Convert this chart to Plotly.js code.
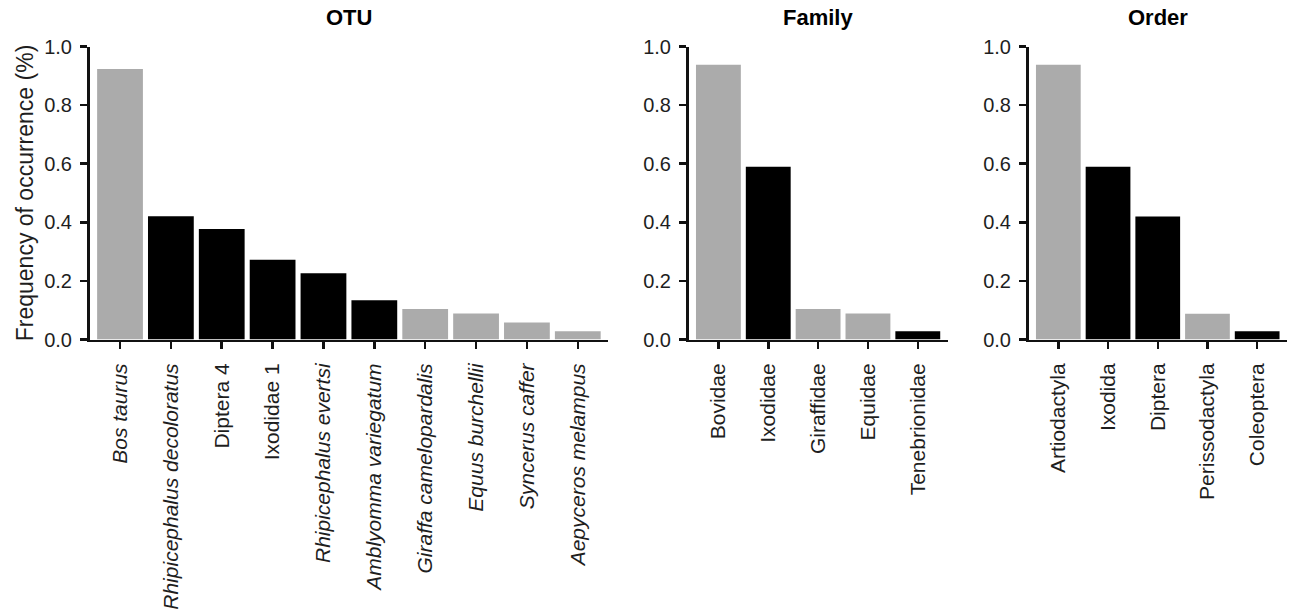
<!DOCTYPE html>
<html>
<head>
<meta charset="utf-8">
<script src="https://cdn.plot.ly/plotly-3.0.1.min.js"></script>
<style>html,body{margin:0;padding:0;background:#fff;}#chart{width:1291px;height:614px;}</style>
</head>
<body>
<div id="chart"></div>
<script>
// ---- data ----
const otuNames = ["Bos taurus", "Rhipicephalus decoloratus", "Diptera 4", "Ixodidae 1", "Rhipicephalus evertsi",
  "Amblyomma variegatum", "Giraffa camelopardalis", "Equus burchellii", "Syncerus caffer", "Aepyceros melampus"];
const otuItalic = [true, true, false, false, true, true, true, true, true, true];
const otuValues = [0.923, 0.421, 0.377, 0.272, 0.226, 0.134, 0.104, 0.089, 0.058, 0.028];
const otuGroup = ["host", "other", "other", "other", "other", "other", "host", "host", "host", "host"];

const familyNames = ["Bovidae", "Ixodidae", "Giraffidae", "Equidae", "Tenebrionidae"];
const familyValues = [0.938, 0.590, 0.104, 0.089, 0.028];
const familyGroup = ["host", "other", "host", "host", "other"];

const orderNames = ["Artiodactyla", "Ixodida", "Diptera", "Perissodactyla", "Coleoptera"];
const orderValues = [0.938, 0.590, 0.420, 0.088, 0.028];
const orderGroup = ["host", "other", "other", "host", "other"];

const panelTitles = ["OTU", "Family", "Order"];
const yTitle = "Frequency of occurrence (%)";

// ---- styling ----
const W = 1291, H = 614;
const groupColor = {host: "#ababab", other: "#000000"};
const FONT = "Liberation Sans, Arial, Helvetica, sans-serif";
const textColor = "#1e1e1e";
const lineColor = "#111111";

function px2x(a, b) { return [a / W, b / W]; }
const yDomain = [(H - 339.5) / H, (H - 46.5) / H];

const traces = [
  {x: otuNames, y: otuValues, xaxis: "x", yaxis: "y", colors: otuGroup},
  {x: familyNames, y: familyValues, xaxis: "x2", yaxis: "y2", colors: familyGroup},
  {x: orderNames, y: orderValues, xaxis: "x3", yaxis: "y3", colors: orderGroup}
].map(t => ({
  type: "bar", x: t.x, y: t.y, xaxis: t.xaxis, yaxis: t.yaxis,
  marker: {color: t.colors.map(g => groupColor[g]), line: {width: 0}},
  hoverinfo: "x+y", showlegend: false
}));

function xAxis(domain, names, italic) {
  return {
    domain: domain, type: "category",
    range: [-0.6, names.length - 0.4],
    tickmode: "array", tickvals: names,
    ticktext: names.map((n, i) => italic && italic[i] ? "<i>" + n + "</i>" : n),
    tickangle: -90, ticks: "outside", ticklen: 7, tickwidth: 2.5, tickcolor: lineColor,
    ticklabelstandoff: 6,
    showline: true, linewidth: 2.5, linecolor: lineColor,
    showgrid: false, zeroline: false, automargin: false,
    tickfont: {family: FONT, size: 21, color: textColor}
  };
}
function yAxis(anchor, title) {
  const ax = {
    domain: yDomain, anchor: anchor, range: [0, 1],
    tickvals: [0, 0.2, 0.4, 0.6, 0.8, 1.0], ticktext: ["0.0", "0.2", "0.4", "0.6", "0.8", "1.0"],
    ticks: "outside", ticklen: 7, tickwidth: 2.5, tickcolor: lineColor,
    ticklabelstandoff: 4,
    showline: true, linewidth: 2.5, linecolor: lineColor,
    showgrid: false, zeroline: false, automargin: false,
    tickfont: {family: FONT, size: 20, color: textColor}
  };
  if (title) ax.title = {text: title, font: {family: FONT, size: 23, color: textColor}, standoff: 4};
  return ax;
}

const layout = {
  width: W, height: H,
  margin: {l: 0, r: 0, t: 0, b: 0},
  paper_bgcolor: "#fff", plot_bgcolor: "#fff",
  bargap: 0.1,
  xaxis: xAxis(px2x(89.5, 608.3), otuNames, otuItalic),
  xaxis2: xAxis(px2x(688.5, 947.7), familyNames, null),
  xaxis3: xAxis(px2x(1028.5, 1287), orderNames, null),
  yaxis: yAxis("x", yTitle),
  yaxis2: yAxis("x2", null),
  yaxis3: yAxis("x3", null),
  annotations: panelTitles.map((t, i) => ({
    text: "<b>" + t + "</b>", showarrow: false,
    xref: (i === 0 ? "x" : "x" + (i + 1)) + " domain", x: 0.5,
    yref: "paper", y: (H - 17) / H, yanchor: "middle", xanchor: "center",
    font: {family: FONT, size: 22, color: "#000"}
  })),
  font: {family: FONT}
};

Plotly.newPlot("chart", traces, layout, {staticPlot: true, displayModeBar: false});
</script>
</body>
</html>
